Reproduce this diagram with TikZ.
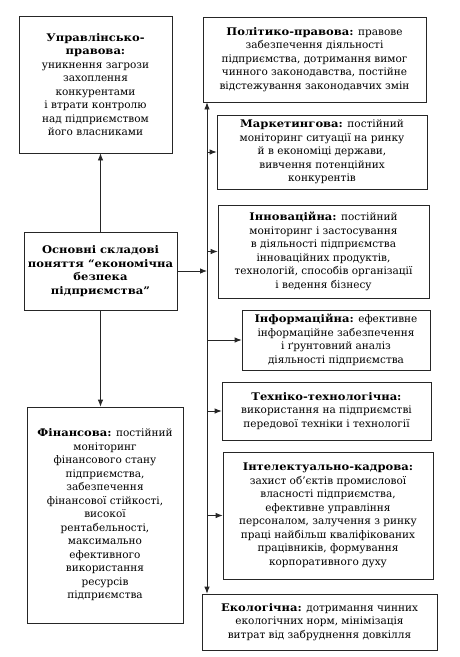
\documentclass[tikz,border=0pt]{standalone}
\usepackage{fontspec}
\setmainfont{DejaVu Serif}[BoldFeatures={FakeStretch=1.1}]
\usetikzlibrary{arrows.meta}
\tikzset{
  box/.style={draw=black!85, line width=0.8pt, align=center, inner sep=2pt,
    font=\fontsize{10.5}{13.5}\selectfont, text=black},
  arr/.style={draw=black!85, line width=0.8pt, -{Latex[length=7pt,width=5.5pt]}},
  biarr/.style={draw=black!85, line width=0.8pt, {Latex[length=7pt,width=5.5pt]}-{Latex[length=7pt,width=5.5pt]}}
}
\begin{document}
\begin{tikzpicture}[x=1pt,y=-1pt]
\useasboundingbox[fill=white] (0,0) rectangle (460,657);
% left column
\node[box, minimum width=153pt, minimum height=137pt] (upr) at (95.5,84.5)
 {\textbf{Управлінсько-}\\\textbf{правова:}\\уникнення загрози\\захоплення\\конкурентами\\і втрати контролю\\над підприємством\\його власниками};
\node[box, minimum width=153pt, minimum height=78pt] (central) at (100.5,271)
 {\textbf{Основні складові}\\\textbf{поняття “економічна}\\\textbf{безпека}\\\textbf{підприємства”}};
\node[box, minimum width=156pt, minimum height=216pt] (fin) at (105,515)
 {\textbf{Фінансова:} постійний\\моніторинг\\фінансового стану\\підприємства,\\забезпечення\\фінансової стійкості,\\високої\\рентабельності,\\максимально\\ефективного\\використання\\ресурсів\\підприємства};
% right column
\node[box, minimum width=223pt, minimum height=85pt] (pol) at (314.5,59.5)
 {\textbf{Політико-правова:} правове\\забезпечення діяльності\\підприємства, дотримання вимог\\чинного законодавства, постійне\\відстежування законодавчих змін};
\node[box, minimum width=210pt, minimum height=74pt] (mark) at (322,152)
 {\textbf{Маркетингова:} постійний\\моніторинг ситуації на ринку\\й в економіці держави,\\вивчення потенційних\\конкурентів};
\node[box, minimum width=211pt, minimum height=93pt] (inno) at (323.5,251.5)
 {\textbf{Інноваційна:} постійний\\моніторинг і застосування\\в діяльності підприємства\\інноваційних продуктів,\\технологій, способів організації\\і ведення бізнесу};
\node[box, minimum width=188pt, minimum height=60pt] (info) at (336,340)
 {\textbf{Інформаційна:} ефективне\\інформаційне забезпечення\\і ґрунтовний аналіз\\діяльності підприємства};
\node[box, minimum width=209pt, minimum height=58pt] (tech) at (326.5,411)
 {\textbf{Техніко-технологічна:}\\використання на підприємстві\\передової техніки і технології};
\node[box, minimum width=210pt, minimum height=127pt] (intel) at (328,515.5)
 {\textbf{Інтелектуально-кадрова:}\\захист об’єктів промислової\\власності підприємства,\\ефективне управління\\персоналом, залучення з ринку\\праці найбільш кваліфікованих\\працівників, формування\\корпоративного духу};
\node[box, minimum width=235pt, minimum height=56pt] (eco) at (319.5,622)
 {\textbf{Екологічна:} дотримання чинних\\екологічних норм, мінімізація\\витрат від забруднення довкілля};
% connectors
\coordinate (vx) at (207,0);
\draw[arr] (central.north) -- (central.north |- upr.south);
\draw[arr] (central.south) -- (central.south |- fin.north);
\draw[arr] (central.east) -- (central.east -| vx);
\draw[biarr] (pol.south -| vx) -- (eco.north -| vx);
\foreach \n in {mark,inno,info,tech,intel}
  \draw[arr] (\n.west -| vx) -- (\n.west);
\end{tikzpicture}
\end{document}
